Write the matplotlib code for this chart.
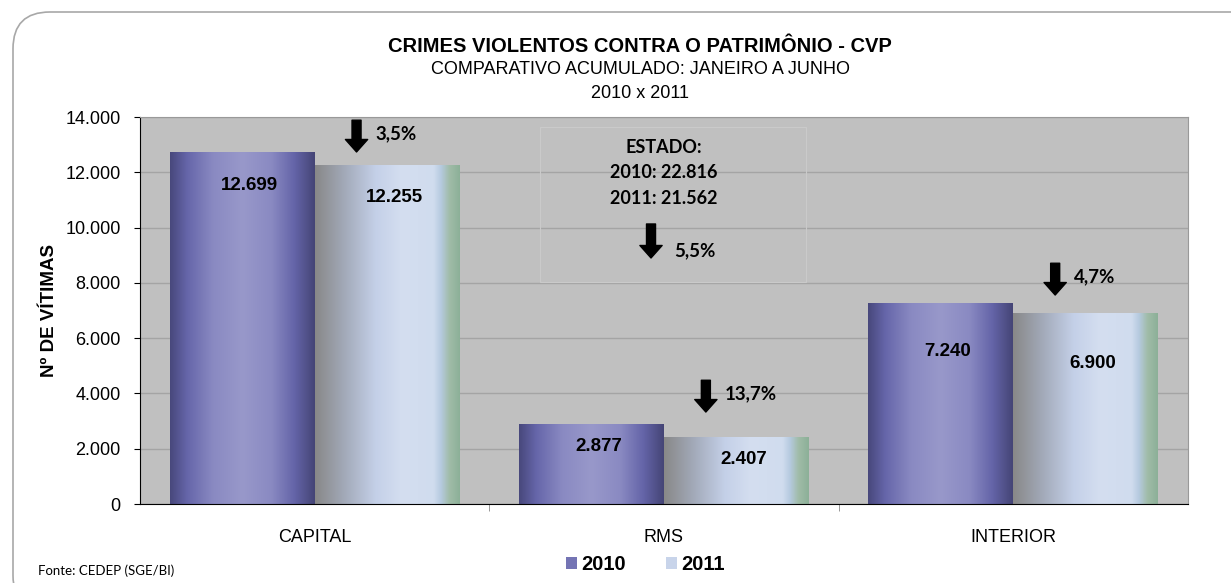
import matplotlib
matplotlib.use('Agg')
import matplotlib.pyplot as plt
import numpy as np
from matplotlib.colors import LinearSegmentedColormap
from matplotlib.patches import FancyBboxPatch, Rectangle, Patch
from matplotlib.ticker import FuncFormatter

plt.rcParams['font.family'] = ['Liberation Sans', 'DejaVu Sans']

categories = ['CAPITAL', 'RMS', 'INTERIOR']
v2010 = [12699, 2877, 7240]
v2011 = [12255, 2407, 6900]
quedas = ['3,5%', '13,7%', '4,7%']
estado_2010 = '22.816'
estado_2011 = '21.562'
estado_queda = '5,5%'

def fmt(v):
    return f'{v:,.0f}'.replace(',', '.')

# gradientes das barras (estilo excel)
cm2010 = LinearSegmentedColormap.from_list('c2010', [
    (0.0, '#48487c'), (0.12, '#6666aa'), (0.3, '#8a8ac2'), (0.5, '#9898ca'),
    (0.7, '#8a8ac2'), (0.86, '#6464a8'), (1.0, '#454576')])
cm2011 = LinearSegmentedColormap.from_list('c2011', [
    (0.0, '#888888'), (0.2, '#a2a9b8'), (0.42, '#c4d0e8'), (0.6, '#d4def0'),
    (0.82, '#d0dcee'), (0.87, '#b6cae0'), (0.93, '#a0bca8'), (1.0, '#8cb098')])

fig = plt.figure(figsize=(12.31, 5.83), dpi=100)
ax = fig.add_axes([0.1137, 0.1355, 0.8513, 0.6638])
ax.set_facecolor('#c0c0c0')

# moldura arredondada
frame = FancyBboxPatch((13 / 1231, -0.05), 1.2, 1.0 - 12 / 583 + 0.05,
                       boxstyle='round,pad=0,rounding_size=0.03',
                       transform=fig.transFigure, fill=False,
                       edgecolor='#a8a8a8', lw=1.2, mutation_aspect=2.1)
fig.patches.append(frame)

w = 0.415
x = np.arange(len(categories))
grad = np.linspace(0, 1, 256).reshape(1, -1)
for i in x:
    ax.imshow(grad, cmap=cm2010, extent=[i - w, i, 0, v2010[i]],
              aspect='auto', zorder=2, interpolation='bilinear')
    ax.imshow(grad, cmap=cm2011, extent=[i, i + w, 0, v2011[i]],
              aspect='auto', zorder=2, interpolation='bilinear')

ax.set_xlim(-0.5, 2.5)
ax.set_ylim(0, 14000)
ax.set_yticks(np.arange(0, 14001, 2000))
ax.yaxis.set_major_formatter(FuncFormatter(lambda v, p: fmt(v)))
ax.grid(axis='y', color='#a4a4a4', lw=1, zorder=1)
ax.set_axisbelow(True)
ax.set_xticks(x)
ax.set_xticklabels(categories, fontsize=13)
ax.tick_params(axis='x', length=0, pad=18)
ax.set_xticks([0.5, 1.5], minor=True)
ax.tick_params(axis='x', which='minor', length=5, color='#888888')
ax.tick_params(axis='y', labelsize=13, length=4, pad=10)
for s in ['top', 'right']:
    ax.spines[s].set_color('#999999')
for s in ['left', 'bottom']:
    ax.spines[s].set_color('black')
ax.set_ylabel('Nº DE VÍTIMAS', fontsize=13.5, fontweight='bold', labelpad=5)

# rotulos de dados
off2010 = [-1160, -780, -1740]
off2011 = [-1150, -780, -1835]
for i in x:
    ax.text(i - w / 2 + 0.02, v2010[i] + off2010[i], fmt(v2010[i]),
            ha='center', va='center', fontsize=13.5, fontweight='bold', zorder=3)
    ax.text(i + w / 2 + 0.02, v2011[i] + off2011[i], fmt(v2011[i]),
            ha='center', va='center', fontsize=13.5, fontweight='bold', zorder=3)

arrow = dict(arrowstyle='simple,head_length=0.9,head_width=1.6,tail_width=0.65',
             color='black', mutation_scale=10, shrinkA=0, shrinkB=0)
gap = [480, 920, 660]
for i in x:
    tip = v2011[i] + gap[i]
    ax.annotate('', xy=(i + 0.12, tip), xytext=(i + 0.12, tip + 1150),
                arrowprops=arrow, zorder=4)
    ax.text(i + 0.12 + 0.055, tip + 650, quedas[i], ha='left', va='center',
            fontsize=13.5, fontweight='bold', family=['Lato', 'DejaVu Sans'])

# caixa do estado
ax.add_patch(Rectangle((0.382, 0.574), 0.254, 0.4, transform=ax.transAxes,
                       fill=False, edgecolor='#cacaca', lw=0.8, zorder=1.5))
ax.text(1.0, 12915, 'ESTADO:', ha='center', va='center', fontsize=13,
        fontweight='bold', family=['Lato', 'DejaVu Sans'])
ax.text(1.0, 12010, '2010: ' + estado_2010, ha='center', va='center', fontsize=13,
        fontweight='bold', family=['Lato', 'DejaVu Sans'])
ax.text(1.0, 11034, '2011: ' + estado_2011, ha='center', va='center', fontsize=13,
        fontweight='bold', family=['Lato', 'DejaVu Sans'])
ax.annotate('', xy=(0.963, 8900), xytext=(0.963, 10130), arrowprops=arrow)
ax.text(1.03, 9150, estado_queda, ha='left', va='center', fontsize=13.5,
        fontweight='bold', family=['Lato', 'DejaVu Sans'])

fig.text(0.52, 1 - 46 / 583, 'CRIMES VIOLENTOS CONTRA O PATRIMÔNIO - CVP',
         ha='center', va='center', fontsize=14.5, fontweight='bold')
fig.text(0.52, 1 - 70 / 583, 'COMPARATIVO ACUMULADO: JANEIRO A JUNHO',
         ha='center', va='center', fontsize=13)
fig.text(0.52, 1 - 93 / 583, '2010 x 2011', ha='center', va='center', fontsize=13)

fig.text(38 / 1231, 1 - 571 / 583, 'Fonte: CEDEP (SGE/BI)', ha='left', va='center',
         fontsize=9.5, family=['Lato', 'DejaVu Sans'])

handles = [Patch(facecolor='#7474b4', edgecolor='none'),
           Patch(facecolor='#c8d4ea', edgecolor='none')]
leg = fig.legend(handles, ['2010', '2011'], loc='center', ncol=2,
                 bbox_to_anchor=(645 / 1231, 1 - 565 / 583), frameon=False,
                 handlelength=0.55, handleheight=0.55, handletextpad=0.2,
                 columnspacing=2.0, prop={'weight': 'bold', 'size': 14.5})

fig.savefig('out.png', dpi=100)
